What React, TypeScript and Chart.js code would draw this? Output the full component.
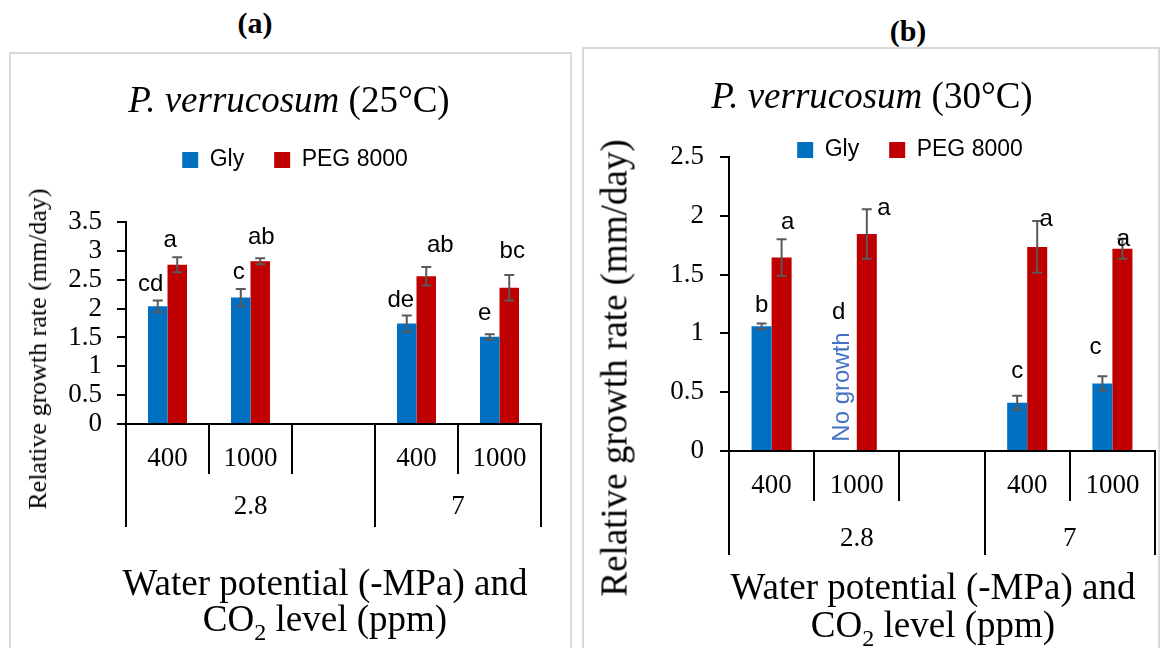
import React, { useEffect, useRef } from "react";
import { Chart, registerables } from "chart.js";

Chart.register(...registerables);

// ---------------- data ----------------
const categories = ["400", "1000", "", "400", "1000"];
const groupLabels = ["2.8", "7"];
const groupSizes = [3, 2];
const seriesNames = ["Gly", "PEG 8000"];

// panel (a) 25 °C
const glyA = [2.04, 2.19, null, 1.74, 1.51];
const glyErrA = [0.1, 0.15, null, 0.14, 0.045];
const pegA = [2.76, 2.82, null, 2.56, 2.36];
const pegErrA = [0.13, 0.05, null, 0.16, 0.22];
const glyLettersA = ["cd", "c", "", "de", "e"];
const pegLettersA = ["a", "ab", "", "ab", "bc"];

// panel (b) 30 °C
const glyB = [1.06, 0, null, 0.41, 0.575];
const glyErrB = [0.025, null, null, 0.06, 0.06];
const pegB = [1.645, 1.845, null, 1.735, 1.72];
const pegErrB = [0.155, 0.21, null, 0.22, 0.085];
const glyLettersB = ["b", "d", "", "c", "c"];
const pegLettersB = ["a", "a", "", "a", "a"];
const glyNotesB = ["", "No growth", "", "", ""];

const yMaxA = 3.5;
const yMaxB = 2.5;
const yStep = 0.5;

// ---------------- styles ----------------
const BLUE = "#0070C0";
const RED = "#C00000";
const ERR = "#595959";
const NOTE = "#4472C4";
const SERIF = "'Liberation Serif', 'Times New Roman', serif";
const SANS = "'Liberation Sans', Arial, sans-serif";

// label placement tweaks [dx, gap above error-bar top] (pixels)
const glyShiftA = [[-7, 16], [-2, 17], null, [-6, 15], [-5, 21]];
const pegShiftA = [[-7, 17], [1, 21], null, [14, 22], [3, 24]];
const glyShiftB = [[0, 18], [-8, 139], null, [0, 24], [-7, 29]];
const pegShiftB = [[6, 17], [17, 1], null, [9, 2], [1, -1]];

const extrasPlugin = {
  id: "extras",
  afterLayout(chart: any, _a: any, o: any) {
    const lg = chart.legend;
    if (lg && o.legendShift) {
      lg.left += o.legendShift[0];
      lg.right += o.legendShift[0];
      lg.top += o.legendShift[1];
      lg.bottom += o.legendShift[1];
    }
  },
  afterDatasetsDraw(chart: any, _a: any, o: any) {
    const ctx = chart.ctx;
    const ys = chart.scales.y;
    o.series.forEach((s: any, d: number) => {
      const meta = chart.getDatasetMeta(d);
      s.values.forEach((v: number | null, i: number) => {
        const el = meta.data[i];
        if (v == null || !el) return;
        const x = el.x;
        const e = s.errs[i];
        if (e != null) {
          const yT = ys.getPixelForValue(v + e);
          const yB = ys.getPixelForValue(v - e);
          const cap = 5;
          ctx.save();
          ctx.strokeStyle = ERR;
          ctx.lineWidth = 2;
          ctx.beginPath();
          ctx.moveTo(x, yT);
          ctx.lineTo(x, yB);
          ctx.moveTo(x - cap, yT);
          ctx.lineTo(x + cap, yT);
          ctx.moveTo(x - cap, yB);
          ctx.lineTo(x + cap, yB);
          ctx.stroke();
          ctx.restore();
        }
        const letter = s.letters[i];
        if (letter) {
          const sh = s.shifts[i] || [0, 18];
          const top = ys.getPixelForValue(v + (e || 0));
          ctx.save();
          ctx.fillStyle = "#000";
          ctx.font = `${o.letterSize}px ${SANS}`;
          ctx.textAlign = "center";
          ctx.textBaseline = "middle";
          ctx.fillText(letter, x + sh[0], top - sh[1]);
          ctx.restore();
        }
        const note = s.notes ? s.notes[i] : "";
        if (note) {
          const y0 = ys.getPixelForValue(v);
          ctx.save();
          ctx.translate(x + o.noteShift[0], y0 - o.noteShift[1]);
          ctx.rotate(-Math.PI / 2);
          ctx.fillStyle = NOTE;
          ctx.font = `${o.letterSize}px ${SANS}`;
          ctx.textAlign = "center";
          ctx.textBaseline = "middle";
          ctx.fillText(note, 0, 0);
          ctx.restore();
        }
      });
    });
  },
  afterDraw(chart: any, _a: any, o: any) {
    const ctx = chart.ctx;
    const xs = chart.scales.x;
    const n = categories.length;
    const slot = (xs.right - xs.left) / n;
    const y0 = xs.top;
    const bounds = new Set<number>([0]);
    let acc = 0;
    groupSizes.forEach((g) => {
      acc += g;
      bounds.add(acc);
    });
    ctx.save();
    ctx.strokeStyle = "#000";
    ctx.lineWidth = 2;
    for (let i = 0; i <= n; i++) {
      const x = Math.round(xs.left + i * slot);
      const len = bounds.has(i) ? o.longTick : o.shortTick;
      ctx.beginPath();
      ctx.moveTo(x, y0);
      ctx.lineTo(x, y0 + len);
      ctx.stroke();
    }
    ctx.fillStyle = "#000";
    ctx.font = `${o.tickSize}px ${SERIF}`;
    ctx.textAlign = "center";
    ctx.textBaseline = "middle";
    let start = 0;
    groupLabels.forEach((lab, k) => {
      const g = groupSizes[k];
      const cx = xs.left + (start + g / 2) * slot;
      ctx.fillText(lab, cx, y0 + o.groupLabelY);
      start += g;
    });
    ctx.restore();
  },
};

function buildConfig(p: any) {
  return {
    type: "bar",
    data: {
      labels: categories,
      datasets: [
        { label: seriesNames[0], data: p.series[0].values, backgroundColor: BLUE, borderWidth: 0 },
        { label: seriesNames[1], data: p.series[1].values, backgroundColor: RED, borderWidth: 0 },
      ],
    },
    options: {
      animation: false,
      responsive: false,
      maintainAspectRatio: false,
      layout: { padding: p.padding },
      datasets: { bar: { categoryPercentage: 0.47, barPercentage: 1 } },
      plugins: {
        legend: {
          position: "top",
          labels: {
            boxWidth: 16,
            boxHeight: 16,
            padding: 30,
            color: "#000",
            font: { family: SANS, size: 23 },
          },
        },
        title: { display: false },
        tooltip: { enabled: false },
        extras: {
          series: p.series,
          legendShift: p.legendShift,
          letterSize: 24,
          noteShift: p.noteShift,
          shortTick: p.shortTick,
          longTick: p.longTick,
          groupLabelY: p.groupLabelY,
          tickSize: p.tickSize,
        },
      },
      scales: {
        x: {
          type: "category",
          offset: true,
          grid: { display: false, drawTicks: false },
          border: { display: true, color: "#000", width: 2 },
          ticks: {
            color: "#000",
            font: { family: SERIF, size: p.tickSize },
            padding: p.xTickPad,
            maxRotation: 0,
            autoSkip: false,
          },
          afterFit: (s: any) => {
            s.height = p.xHeight;
          },
        },
        y: {
          min: 0,
          max: p.yMax,
          ticks: {
            stepSize: yStep,
            autoSkip: false,
            color: "#000",
            font: { family: SERIF, size: p.tickSize },
            padding: p.yTickPad,
            callback: (v: any) => String(v),
          },
          grid: {
            display: true,
            drawOnChartArea: false,
            drawTicks: true,
            tickLength: 9,
            color: "#000",
            lineWidth: 2,
          },
          border: { display: true, color: "#000", width: 2 },
          afterFit: (s: any) => {
            s.width = p.yWidth;
          },
        },
      },
    },
    plugins: [extrasPlugin],
  };
}

const panelA = {
  box: { left: 11, top: 53, width: 558, height: 595 },
  padding: { top: 106, right: 28, left: 0, bottom: 0 },
  yWidth: 115,
  xHeight: 224,
  yMax: yMaxA,
  tickSize: 27,
  yTickPad: 15,
  xTickPad: 19,
  legendShift: [19, -40.5],
  shortTick: 50,
  longTick: 103,
  groupLabelY: 83,
  noteShift: [0, 0],
  series: [
    { values: glyA, errs: glyErrA, letters: glyLettersA, shifts: glyShiftA },
    { values: pegA, errs: pegErrA, letters: pegLettersA, shifts: pegShiftA },
  ],
};

const panelB = {
  box: { left: 584, top: 49, width: 578, height: 599 },
  padding: { top: 45, right: 7, left: 0, bottom: 0 },
  yWidth: 145,
  xHeight: 197,
  yMax: yMaxB,
  tickSize: 27,
  yTickPad: 16,
  xTickPad: 19,
  legendShift: [40.5, 14.5],
  shortTick: 50,
  longTick: 104,
  groupLabelY: 88,
  noteShift: [-4, 64],
  series: [
    { values: glyB, errs: glyErrB, letters: glyLettersB, shifts: glyShiftB, notes: glyNotesB },
    { values: pegB, errs: pegErrB, letters: pegLettersB, shifts: pegShiftB },
  ],
};

function Panel({ cfg }: { cfg: any }) {
  const ref = useRef<HTMLCanvasElement>(null);
  useEffect(() => {
    const chart = new Chart(ref.current as HTMLCanvasElement, buildConfig(cfg) as any);
    return () => chart.destroy();
  }, []);
  return (
    <canvas
      ref={ref}
      width={cfg.box.width}
      height={cfg.box.height}
      style={{
        position: "absolute",
        left: cfg.box.left,
        top: cfg.box.top,
        width: cfg.box.width,
        height: cfg.box.height,
      }}
    />
  );
}

function Label(props: any) {
  const { x, y, size, bold, rotate, children } = props;
  return (
    <div
      style={{
        position: "absolute",
        left: x,
        top: y,
        transform: `translate(-50%, -50%)${rotate ? " rotate(-90deg)" : ""}`,
        fontFamily: SERIF,
        fontSize: size,
        fontWeight: bold ? "bold" : "normal",
        whiteSpace: "nowrap",
        lineHeight: 1,
        color: "#000",
        pointerEvents: "none",
      }}
    >
      {children}
    </div>
  );
}

export default function App() {
  return (
    <div
      style={{
        position: "fixed",
        left: 0,
        top: 0,
        width: 1162,
        height: 648,
        overflow: "hidden",
        background: "#fff",
      }}
    >
      <div style={{ position: "absolute", left: 9, top: 52, width: 563, height: 700, border: "2px solid #D9D9D9", boxSizing: "border-box" }} />
      <div style={{ position: "absolute", left: 582, top: 47, width: 578, height: 700, border: "2px solid #D9D9D9", boxSizing: "border-box" }} />
      <Panel cfg={panelA} />
      <Panel cfg={panelB} />
      <Label x={255} y={23} size={30} bold>(a)</Label>
      <Label x={908} y={31} size={30} bold>(b)</Label>
      <Label x={289} y={99} size={37}><i>P. verrucosum</i> (25°C)</Label>
      <Label x={872} y={95} size={37}><i>P. verrucosum</i> (30°C)</Label>
      <Label x={38} y={349} size={26} rotate>Relative growth rate (mm/day)</Label>
      <Label x={614} y={368} size={37} rotate>Relative growth rate (mm/day)</Label>
      <Label x={325} y={582} size={37}>Water potential (-MPa) and</Label>
      <Label x={325} y={622} size={37}>CO<sub style={{ fontSize: "0.65em" }}>2</sub> level (ppm)</Label>
      <Label x={933} y={586} size={37}>Water potential (-MPa) and</Label>
      <Label x={933} y={628} size={37}>CO<sub style={{ fontSize: "0.65em" }}>2</sub> level (ppm)</Label>
    </div>
  );
}
